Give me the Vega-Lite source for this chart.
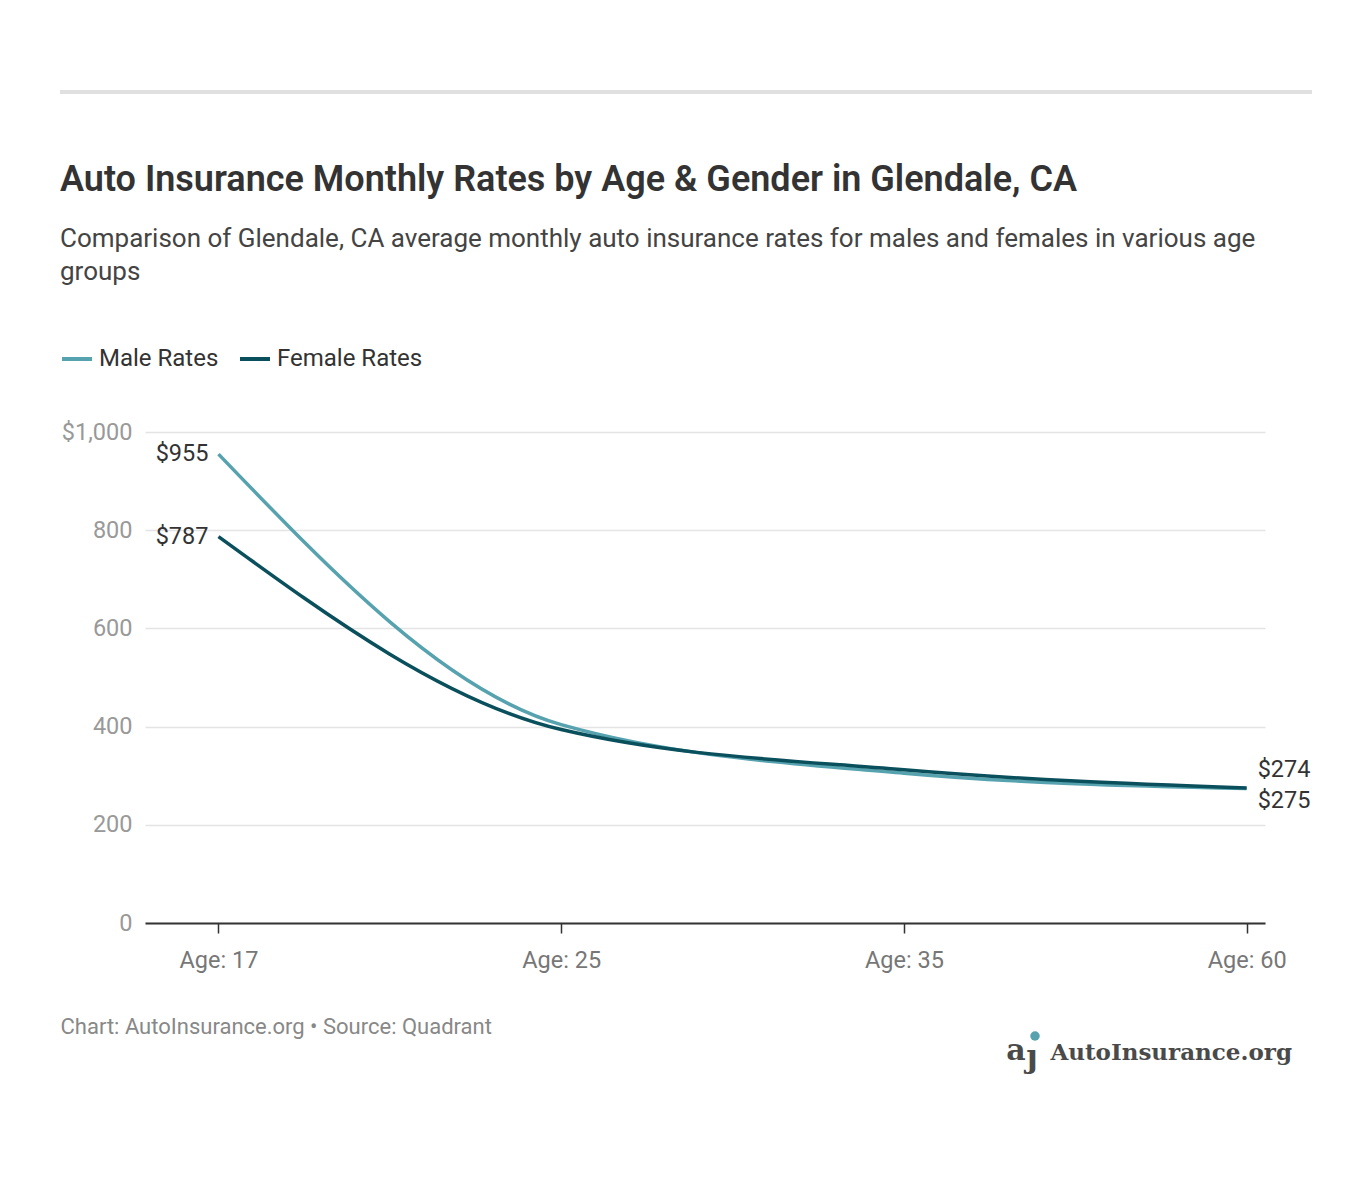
{
  "$schema": "https://vega.github.io/schema/vega-lite/v6.json",
  "width": 1120,
  "height": 491,
  "autosize": "none",
  "padding": {"left": 145, "top": 432, "right": 107, "bottom": 271},
  "background": "white",
  "config": {"font": "Roboto", "view": {"stroke": null}},
  "title": {
    "text": "Auto Insurance Monthly Rates by Age & Gender in Glendale, CA",
    "subtitle": ["Comparison of Glendale, CA average monthly auto insurance rates for males and females in various age", "groups"],
    "anchor": "start",
    "frame": "group",
    "dx": -85,
    "dy": 256,
    "offset": 60,
    "fontSize": 36,
    "fontWeight": 600,
    "color": "#333333",
    "subtitleFontSize": 26,
    "subtitleColor": "#444444",
    "subtitleLineHeight": 33,
    "subtitlePadding": 27
  },
  "data": {
    "values": [
      {"age": "Age: 17", "gender": "Male Rates", "rate": 955},
      {"age": "Age: 25", "gender": "Male Rates", "rate": 404},
      {"age": "Age: 35", "gender": "Male Rates", "rate": 305},
      {"age": "Age: 60", "gender": "Male Rates", "rate": 274},
      {"age": "Age: 17", "gender": "Female Rates", "rate": 787},
      {"age": "Age: 25", "gender": "Female Rates", "rate": 394},
      {"age": "Age: 35", "gender": "Female Rates", "rate": 312},
      {"age": "Age: 60", "gender": "Female Rates", "rate": 275}
    ]
  },
  "layer": [
    {
      "mark": {"type": "line", "interpolate": "monotone", "strokeWidth": 3.5},
      "encoding": {
        "x": {
          "field": "age", "type": "ordinal", "sort": ["Age: 17", "Age: 25", "Age: 35", "Age: 60"],
          "scale": {"type": "point", "padding": 0.134, "align": 0.8},
          "axis": {
            "title": "Chart: AutoInsurance.org • Source: Quadrant",
            "titleFontSize": 22, "titleFontWeight": "normal", "titleColor": "#888888",
            "titleAnchor": "start", "titleAlign": "left", "titleX": -85, "titleY": 103, "titleBaseline": "middle",
            "labelAngle": 0, "labelFontSize": 23.5, "labelColor": "#777777", "labelPadding": 15,
            "domainColor": "#333333", "domainWidth": 2, "tickColor": "#333333", "tickSize": 10, "tickWidth": 1.5,
            "grid": false
          }
        },
        "y": {
          "field": "rate", "type": "quantitative",
          "scale": {"domain": [0, 1000]},
          "axis": {
            "title": null, "values": [0, 200, 400, 600, 800, 1000],
            "labelExpr": "datum.value == 1000 ? '$1,000' : datum.label",
            "labelFontSize": 23.5, "labelColor": "#999999", "labelPadding": 13,
            "domain": false, "ticks": false, "gridColor": "#e4e4e4", "gridWidth": 1.5
          }
        },
        "color": {
          "field": "gender", "type": "nominal",
          "scale": {"domain": ["Male Rates", "Female Rates"], "range": ["#57a2af", "#0a4f5c"]},
          "legend": {
            "title": null, "orient": "none", "legendX": -85, "legendY": -90, "direction": "horizontal",
            "symbolType": "stroke", "symbolStrokeWidth": 4, "symbolSize": 900,
            "labelFontSize": 24, "labelColor": "#333333", "labelOffset": 5, "columnPadding": 13
          }
        }
      }
    },
    {
      "transform": [{"filter": "datum.age == 'Age: 17'"}],
      "mark": {"type": "text", "align": "right", "dx": -10, "fontSize": 23.5, "color": "#333333"},
      "encoding": {
        "x": {"field": "age", "type": "ordinal", "sort": ["Age: 17", "Age: 25", "Age: 35", "Age: 60"]},
        "y": {"field": "rate", "type": "quantitative"},
        "text": {"field": "rate", "type": "quantitative", "format": "$,.0f"}
      }
    },
    {
      "transform": [{"filter": "datum.age == 'Age: 60' && datum.gender == 'Male Rates'"}],
      "mark": {"type": "text", "align": "left", "dx": 11, "dy": -18, "fontSize": 23.5, "color": "#333333"},
      "encoding": {
        "x": {"field": "age", "type": "ordinal", "sort": ["Age: 17", "Age: 25", "Age: 35", "Age: 60"]},
        "y": {"field": "rate", "type": "quantitative"},
        "text": {"field": "rate", "type": "quantitative", "format": "$,.0f"}
      }
    },
    {
      "transform": [{"filter": "datum.age == 'Age: 60' && datum.gender == 'Female Rates'"}],
      "mark": {"type": "text", "align": "left", "dx": 11, "dy": 13, "fontSize": 23.5, "color": "#333333"},
      "encoding": {
        "x": {"field": "age", "type": "ordinal", "sort": ["Age: 17", "Age: 25", "Age: 35", "Age: 60"]},
        "y": {"field": "rate", "type": "quantitative"},
        "text": {"field": "rate", "type": "quantitative", "format": "$,.0f"}
      }
    },
    {
      "data": {"values": [{"logo": "AutoInsurance.org"}]},
      "mark": {"type": "text", "align": "right", "baseline": "middle", "font": "DejaVu Serif", "fontWeight": "bold", "fontSize": 23, "color": "#4a4a4a"},
      "encoding": {"text": {"field": "logo"}, "x": {"value": 1147}, "y": {"value": 621}}
    },
    {
      "data": {"values": [{"icon": "a"}]},
      "mark": {"type": "text", "align": "center", "baseline": "middle", "font": "DejaVu Serif", "fontWeight": "bold", "fontSize": 30, "color": "#4a4a4a"},
      "encoding": {"text": {"field": "icon"}, "x": {"value": 871}, "y": {"value": 619}}
    },
    {
      "data": {"values": [{"icon": "ȷ"}]},
      "mark": {"type": "text", "align": "center", "baseline": "middle", "font": "DejaVu Serif", "fontWeight": "bold", "fontSize": 32, "color": "#4a4a4a"},
      "encoding": {"text": {"field": "icon"}, "x": {"value": 887}, "y": {"value": 625}}
    },
    {
      "data": {"values": [{"dot": 1}]},
      "mark": {"type": "circle", "size": 90, "opacity": 1, "color": "#57a2af"},
      "encoding": {"x": {"value": 890}, "y": {"value": 604}}
    },
    {
      "data": {"values": [{"rule": 1}]},
      "mark": {"type": "rule", "color": "#e0e0e0", "strokeWidth": 4},
      "encoding": {"x": {"value": -85}, "x2": {"value": 1167}, "y": {"value": -340}}
    }
  ]
}
